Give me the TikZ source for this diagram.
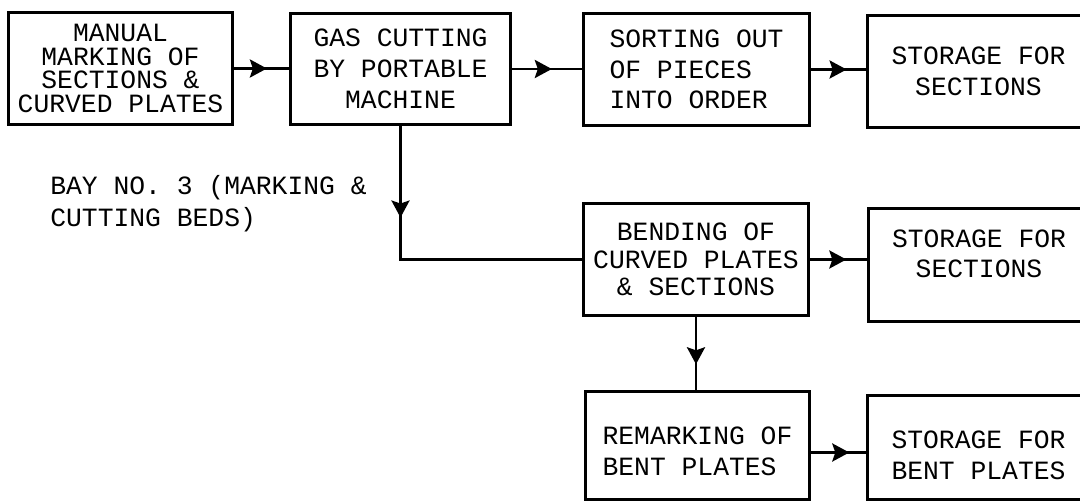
\documentclass[tikz,border=0pt]{standalone}
\usepackage{fontspec}
\setmonofont{Liberation Mono}
\usetikzlibrary{arrows.meta,decorations.markings}

\tikzset{
	stage/.style={draw, line width=1.7pt, inner sep=0pt, align=center,
		font=\ttfamily\fontsize{15}{17.5}\selectfont},
	flow/.style={line width=1.7pt, postaction={decorate},
		decoration={markings, mark=at position #1 with {\arrow{Stealth[length=0.34cm,width=0.36cm,inset=0.06cm]}}}}
}

\begin{document}
\begin{tikzpicture}[x=0.02cm, y=-0.02cm]
	\useasboundingbox (0,0) rectangle (1080,503);
	\clip (0,0) rectangle (1080,503);
	% top row: marking, cutting, sorting, storage
	\node[stage, minimum width=4.5cm, minimum height=2.26cm, font=\ttfamily\fontsize{15}{13.5}\selectfont] (mark) at (120.5,68.5) {MANUAL\\MARKING OF\\SECTIONS \&\\CURVED PLATES};
	\node[stage, minimum width=4.42cm, minimum height=2.24cm] (cut) at (400.5,69) {GAS CUTTING\\BY PORTABLE\\MACHINE};
	\node[stage, minimum width=4.54cm, minimum height=2.26cm, align=left] (sort) at (696.5,69.5) {SORTING OUT\\OF PIECES\\INTO ORDER};
	\node[stage, minimum width=4.46cm, minimum height=2.26cm] (storeA) at (978.5,71.5) {STORAGE FOR\\SECTIONS};
	% middle row
	\node[stage, minimum width=4.52cm, minimum height=2.26cm, font=\ttfamily\fontsize{15}{15.5}\selectfont] (bend) at (696,259.5) {BENDING OF\\CURVED PLATES\\\& SECTIONS};
	\node[stage, minimum width=4.44cm, minimum height=2.28cm] (storeB) at (979,265) {STORAGE FOR\\SECTIONS\rule[-13pt]{0pt}{0pt}};
	% bottom row
	\node[stage, minimum width=4.5cm, minimum height=2.18cm, align=left] (remark) at (697.5,445.5) {\rule{0pt}{17pt}REMARKING OF\\BENT PLATES};
	\node[stage, minimum width=4.46cm, minimum height=2.1cm, align=left] (storeC) at (978.5,447.5) {\rule{0pt}{19pt}STORAGE FOR\\BENT PLATES};
	% bay label
	\node[anchor=north west, inner sep=0pt, align=left, font=\ttfamily\fontsize{15}{18}\selectfont] (bay) at (50,175) {BAY NO. 3 (MARKING \&\\CUTTING BEDS)};
	% connectors
	\draw[flow=0.6] (mark.east) -- (mark.east -| cut.west);
	\draw[flow=0.57] (cut.east) -- (cut.east -| sort.west);
	\draw[flow=0.65] (sort.east) -- (sort.east -| storeA.west);
	\draw[flow=0.29] (cut.south) |- (bend.west);
	\draw[flow=0.64] (bend.east) -- (bend.east -| storeB.west);
	\draw[flow=0.65] (bend.south) -- (bend.south |- remark.north);
	\draw[flow=0.7] ([yshift=-0.14cm]remark.east) -- ([yshift=-0.14cm]remark.east -| storeC.west);
\end{tikzpicture}
\end{document}
